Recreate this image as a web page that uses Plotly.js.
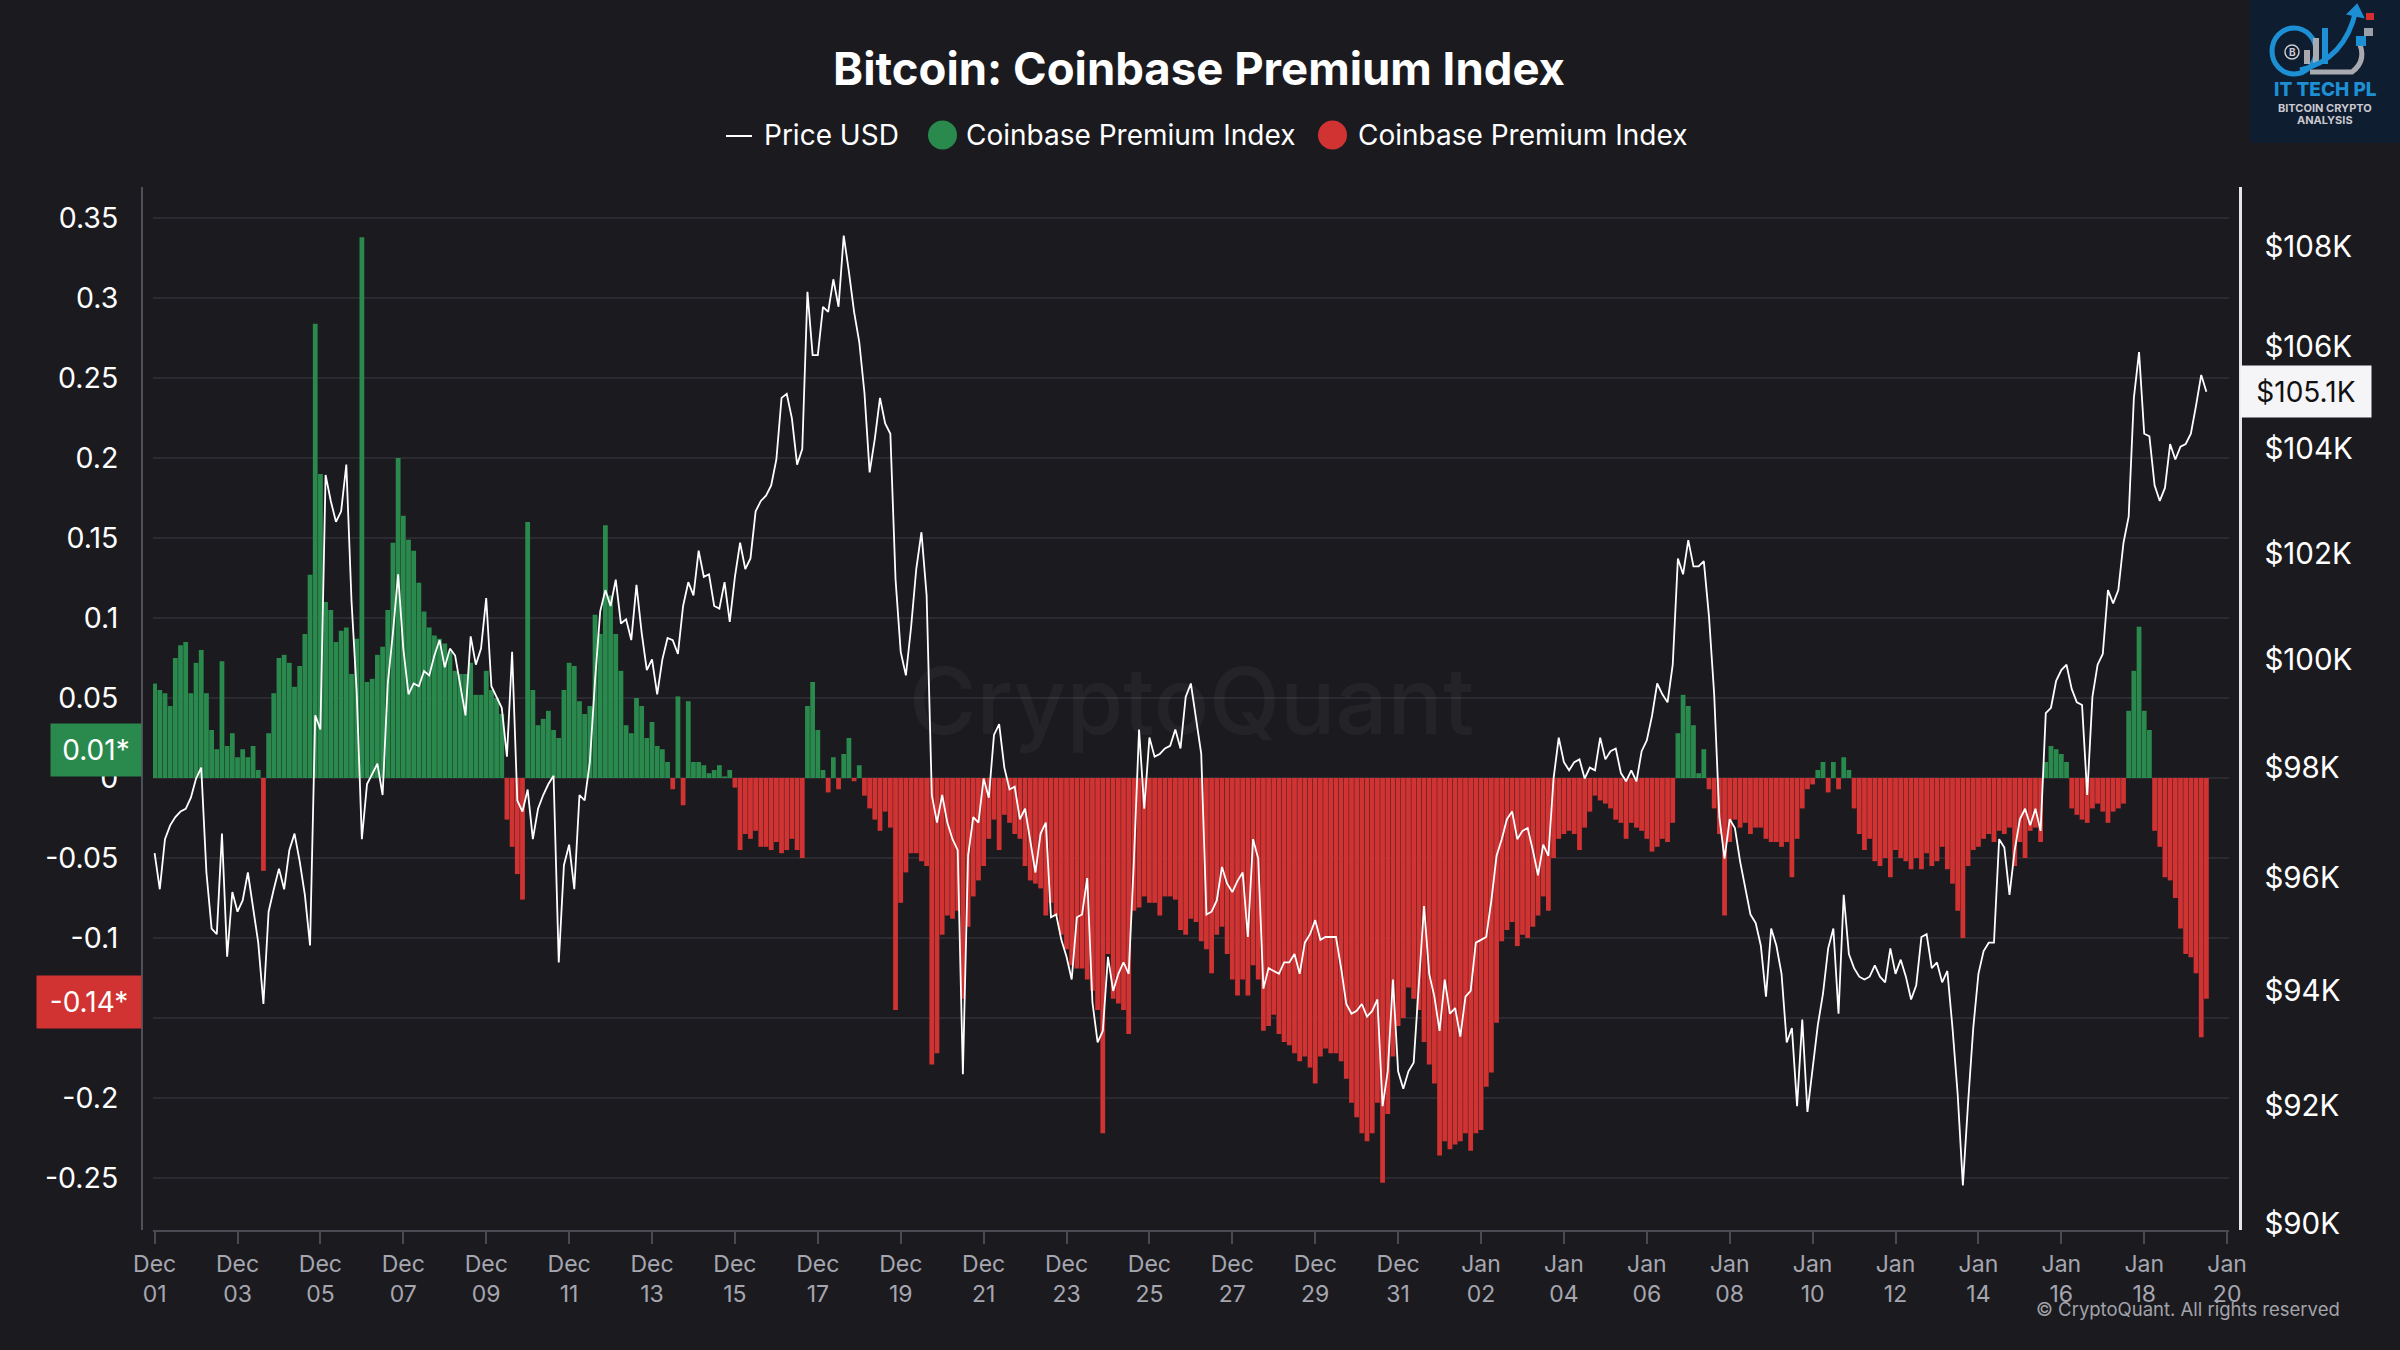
<!DOCTYPE html>
<html>
<head>
<meta charset="utf-8">
<script src="https://cdn.plot.ly/plotly-3.0.1.min.js"></script>
<style>
html,body{margin:0;padding:0;background:#1b1b1f;}
#chart{width:2400px;height:1350px;}
</style>
</head>
<body>
<div id="chart"></div>
<script>
// ---------------- DATA ----------------
// series sampled every 3 hours, starting 2024-12-01 00:00
const seriesStart = '2024-12-01T00:00:00Z';
const stepHours = 3;

// Coinbase Premium Index (positive -> green, negative -> red)
const premium = [
 0.059,0.055,0.053,0.045,0.075,0.083,0.085,0.053,0.072,0.08,
 0.053,0.03,0.018,0.073,0.02,0.028,0.013,0.018,0.013,0.02,
 0.005,-0.058,0.028,0.053,0.075,0.077,0.072,0.057,0.07,0.09,
 0.127,0.284,0.19,0.11,0.105,0.085,0.092,0.094,0.065,0.087,
 0.338,0.06,0.062,0.077,0.082,0.105,0.147,0.2,0.164,0.149,
 0.142,0.122,0.104,0.094,0.089,0.087,0.084,0.079,0.067,0.065,
 0.065,0.072,0.052,0.052,0.067,0.055,0.05,0.04,-0.026,-0.043,
 -0.06,-0.076,0.16,0.055,0.033,0.037,0.042,0.03,0.025,0.055,
 0.072,0.07,0.048,0.04,0.045,0.102,0.09,0.158,0.114,0.09,
 0.067,0.033,0.028,0.05,0.045,0.025,0.035,0.02,0.018,0.01,
 -0.007,0.051,-0.017,0.048,0.01,0.01,0.008,0.003,0.005,0.008,
 0.001,0.005,-0.006,-0.045,-0.035,-0.038,-0.033,-0.043,-0.043,-0.045,
 -0.04,-0.047,-0.045,-0.038,-0.045,-0.05,0.045,0.06,0.03,0.005,
 -0.009,0.013,-0.007,0.015,0.025,-0.002,0.008,-0.011,-0.019,-0.026,
 -0.033,-0.021,-0.031,-0.145,-0.078,-0.059,-0.047,-0.047,-0.052,-0.055,
 -0.179,-0.172,-0.098,-0.086,-0.088,-0.083,-0.138,-0.093,-0.074,-0.064,
 -0.055,-0.038,-0.026,-0.045,-0.023,-0.028,-0.035,-0.038,-0.055,-0.064,
 -0.066,-0.069,-0.086,-0.078,-0.086,-0.098,-0.107,-0.117,-0.119,-0.119,
 -0.126,-0.133,-0.145,-0.222,-0.11,-0.138,-0.141,-0.145,-0.16,-0.083,
 -0.081,-0.074,-0.078,-0.078,-0.086,-0.074,-0.074,-0.076,-0.095,-0.098,
 -0.088,-0.09,-0.102,-0.107,-0.122,-0.098,-0.093,-0.11,-0.126,-0.136,
 -0.126,-0.136,-0.117,-0.126,-0.158,-0.155,-0.148,-0.16,-0.165,-0.167,
 -0.172,-0.177,-0.174,-0.181,-0.191,-0.174,-0.169,-0.172,-0.172,-0.177,
 -0.188,-0.203,-0.212,-0.222,-0.227,-0.222,-0.203,-0.253,-0.21,-0.174,
 -0.155,-0.15,-0.131,-0.138,-0.145,-0.165,-0.179,-0.191,-0.236,-0.227,
 -0.232,-0.229,-0.227,-0.222,-0.233,-0.222,-0.22,-0.193,-0.184,-0.153,
 -0.102,-0.095,-0.09,-0.105,-0.098,-0.1,-0.093,-0.086,-0.074,-0.083,
 -0.05,-0.038,-0.035,-0.033,-0.035,-0.045,-0.031,-0.021,-0.011,-0.014,
 -0.016,-0.019,-0.026,-0.028,-0.038,-0.028,-0.031,-0.033,-0.038,-0.046,
 -0.043,-0.038,-0.04,-0.028,0.028,0.052,0.045,0.033,0.003,0.018,
 -0.007,-0.019,-0.035,-0.086,-0.04,-0.026,-0.031,-0.028,-0.035,-0.031,
 -0.031,-0.038,-0.04,-0.04,-0.043,-0.04,-0.062,-0.038,-0.019,-0.007,
 -0.004,0.005,0.01,-0.009,0.01,-0.007,0.013,0.005,-0.019,-0.035,
 -0.045,-0.038,-0.052,-0.055,-0.05,-0.062,-0.045,-0.05,-0.052,-0.057,
 -0.05,-0.057,-0.047,-0.055,-0.052,-0.043,-0.057,-0.066,-0.083,-0.1,
 -0.055,-0.045,-0.043,-0.038,-0.035,-0.04,-0.033,-0.035,-0.031,-0.055,
 -0.04,-0.05,-0.033,-0.031,-0.04,0.01,0.02,0.018,0.015,0.01,
 -0.019,-0.023,-0.026,-0.028,-0.019,-0.016,-0.021,-0.028,-0.021,-0.019,
 -0.016,0.042,0.067,0.0945,0.042,0.03,-0.033,-0.043,-0.062,-0.064,
 -0.075,-0.094,-0.11,-0.112,-0.122,-0.162,-0.138
];

// Bitcoin price, thousands of USD
const priceUsdK = [
 96.45,95.8,96.7,96.95,97.1,97.2,97.25,97.45,97.8,98.0,
 96.1,95.1,95.0,96.8,94.6,95.75,95.4,95.6,96.1,95.5,
 94.85,93.77,95.4,95.8,96.17,95.8,96.5,96.8,96.3,95.7,
 94.8,98.96,98.7,103.5,103.0,102.6,102.8,103.7,101.1,99.4,
 96.7,97.7,97.9,98.07,97.5,99.55,100.5,101.6,100.2,99.35,
 99.55,99.5,99.78,99.7,100.07,100.36,99.85,100.2,100.07,99.5,
 98.96,100.43,99.9,100.2,101.15,99.5,99.3,99.1,98.2,100.14,
 97.4,97.2,97.6,96.7,97.25,97.5,97.7,97.85,94.5,96.23,
 96.6,95.8,97.5,97.4,98.1,99.6,100.9,101.3,101.0,101.5,
 100.67,100.75,100.36,101.4,100.5,99.8,100.0,99.35,100.0,100.4,
 100.36,100.1,101.0,101.45,101.2,102.05,101.55,101.6,101.0,100.95,
 101.45,100.7,101.55,102.2,101.7,101.9,102.8,103.0,103.1,103.3,
 103.8,105.0,105.08,104.6,103.7,104.0,107.1,105.84,105.84,106.8,
 106.7,107.35,106.8,108.23,107.5,106.7,106.1,105.1,103.55,104.2,
 105.0,104.5,104.3,101.5,100.14,99.7,100.6,101.7,102.4,101.2,
 97.5,97.0,97.5,97.0,96.7,96.5,92.55,96.4,97.1,97.0,
 97.8,97.45,98.6,98.8,98.0,97.6,97.65,97.06,97.25,96.7,
 96.1,96.8,97.0,95.3,95.35,94.9,94.6,94.2,95.3,95.35,
 96.0,93.8,93.1,93.3,94.6,94.0,94.3,94.5,94.3,96.3,
 98.7,97.25,98.55,98.2,98.25,98.35,98.4,98.7,98.35,99.3,
 99.55,98.9,98.25,95.35,95.4,95.6,96.2,95.9,95.75,95.95,
 96.1,94.95,96.7,96.35,94.04,94.4,94.35,94.3,94.5,94.5,
 94.65,94.3,94.85,95.0,95.25,94.9,94.95,94.95,94.95,94.4,
 93.77,93.6,93.65,93.77,93.55,93.65,93.85,92.0,92.6,94.2,
 92.6,92.3,92.6,92.75,94.2,95.5,94.3,93.9,93.3,94.2,
 93.6,93.7,93.2,93.9,94.0,94.85,94.9,94.95,95.6,96.4,
 96.7,97.06,97.2,96.7,96.85,96.9,96.5,96.05,96.6,96.4,
 97.8,98.55,98.1,97.95,98.1,98.15,97.8,98.0,97.95,98.55,
 98.15,98.3,98.35,97.9,97.75,97.95,97.75,98.3,98.5,98.95,
 99.55,99.35,99.2,99.9,101.9,101.6,102.25,101.75,101.75,101.85,
 100.8,99.35,97.1,96.35,97.06,96.9,96.3,95.85,95.35,95.2,
 94.8,93.9,95.1,94.8,94.3,93.1,93.35,92.0,93.5,91.9,
 92.6,93.4,93.95,94.75,95.1,93.6,95.7,94.65,94.4,94.25,
 94.2,94.25,94.45,94.25,94.15,94.75,94.3,94.55,94.25,93.85,
 94.1,94.95,95.0,94.4,94.5,94.15,94.35,93.35,92.2,90.65,
 92.05,93.35,94.3,94.7,94.85,94.85,96.7,96.55,95.7,96.5,
 97.06,97.25,96.95,97.25,96.85,99.0,99.1,99.6,99.8,99.9,
 99.45,99.2,99.15,97.5,99.3,99.9,100.1,101.3,101.05,101.3,
 102.2,102.7,105.0,105.9,104.3,104.25,103.3,103.0,103.25,104.1,
 103.8,104.05,104.1,104.3,104.85,105.45,105.12
];

// axis ticks
const xTickVals = ['2024-12-01','2024-12-03','2024-12-05','2024-12-07','2024-12-09','2024-12-11',
  '2024-12-13','2024-12-15','2024-12-17','2024-12-19','2024-12-21','2024-12-23','2024-12-25',
  '2024-12-27','2024-12-29','2024-12-31','2025-01-02','2025-01-04','2025-01-06','2025-01-08',
  '2025-01-10','2025-01-12','2025-01-14','2025-01-16','2025-01-18','2025-01-20'];
const xTickText = ['Dec<br>01','Dec<br>03','Dec<br>05','Dec<br>07','Dec<br>09','Dec<br>11',
  'Dec<br>13','Dec<br>15','Dec<br>17','Dec<br>19','Dec<br>21','Dec<br>23','Dec<br>25',
  'Dec<br>27','Dec<br>29','Dec<br>31','Jan<br>02','Jan<br>04','Jan<br>06','Jan<br>08',
  'Jan<br>10','Jan<br>12','Jan<br>14','Jan<br>16','Jan<br>18','Jan<br>20'];
// -0.15 sits under the "-0.14*" marker in the reference, so its label is hidden
const premiumTickVals = [-0.25,-0.2,-0.15,-0.1,-0.05,0,0.05,0.1,0.15,0.2,0.25,0.3,0.35];
const premiumTickText = ['-0.25','-0.2','','-0.1','-0.05','0','0.05','0.1','0.15','0.2','0.25','0.3','0.35'];
const priceTickVals = [90000,92000,94000,96000,98000,100000,102000,104000,106000,108000];
const priceTickText = ['$90K','$92K','$94K','$96K','$98K','$100K','$102K','$104K','$106K','$108K'];

// latest-value markers shown on the left axis
const premiumMarkerValues = [0.0178, -0.14];
const premiumMarkerText = ['0.01*', '-0.14*'];

// legend entries
const legendNames = ['Price USD', 'Coinbase Premium Index', 'Coinbase Premium Index'];

// ---------------- BUILD ----------------
const GREEN = '#2a8a4e', RED = '#d13333';
const t0 = Date.parse(seriesStart);
const times = premium.map((_, i) =>
  new Date(t0 + i * stepHours * 3600000).toISOString().slice(0, 19).replace('T', ' '));
const barW = stepHours * 3600000 * 0.92;
const greenY = premium.map(v => v >= 0 ? v : null);
const redY = premium.map(v => v < 0 ? v : null);
const priceUsd = priceUsdK.map(v => v * 1000);

// page geometry helpers (plot area spans 142..2240 x 187..1230 px)
const L = 142, R = 2240, T = 187, B = 1230;
const px = X => (X - L) / (R - L);
const py = Y => (B - Y) / (B - T);

const traces = [
  {type: 'bar', name: legendNames[1], x: times, y: greenY, width: barW,
   marker: {color: GREEN, line: {width: 0}},
   showlegend: false, hoverinfo: 'skip', xaxis: 'x', yaxis: 'y'},
  {type: 'bar', name: legendNames[2], x: times, y: redY, width: barW,
   marker: {color: RED, line: {width: 0}},
   showlegend: false, hoverinfo: 'skip', xaxis: 'x', yaxis: 'y'},
  {type: 'scatter', mode: 'lines', name: legendNames[0], x: times, y: priceUsd,
   line: {color: '#ffffff', width: 1.8}, xaxis: 'x', yaxis: 'y2', showlegend: false, hoverinfo: 'skip'}
];

const lastPrice = priceUsd[priceUsd.length - 1];
const lastPremium = premium[premium.length - 1];

const LEG_Y = 135;
const annotations = [
  // legend texts
  {xref: 'paper', yref: 'paper', x: px(762), y: py(LEG_Y), xanchor: 'left', yanchor: 'middle',
   text: legendNames[0], showarrow: false, font: {family: 'Inter', size: 28, color: '#ffffff'}},
  {xref: 'paper', yref: 'paper', x: px(964), y: py(LEG_Y), xanchor: 'left', yanchor: 'middle',
   text: legendNames[1], showarrow: false, font: {family: 'Inter', size: 28, color: '#ffffff'}},
  {xref: 'paper', yref: 'paper', x: px(1356), y: py(LEG_Y), xanchor: 'left', yanchor: 'middle',
   text: legendNames[2], showarrow: false, font: {family: 'Inter', size: 28, color: '#ffffff'}},
  // latest-value markers
  {xref: 'paper', yref: 'y', x: 0, y: premiumMarkerValues[0], xanchor: 'right', yanchor: 'middle',
   text: premiumMarkerText[0], showarrow: false, bgcolor: GREEN, borderpad: 8,
   width: 74, height: 36, align: 'center',
   font: {family: 'Inter', size: 28, color: '#ffffff'}},
  {xref: 'paper', yref: 'y', x: 0, y: premiumMarkerValues[1], xanchor: 'right', yanchor: 'middle',
   text: premiumMarkerText[1], showarrow: false, bgcolor: RED, borderpad: 8,
   width: 88, height: 36, align: 'center',
   font: {family: 'Inter', size: 28, color: '#ffffff'}},
  {xref: 'paper', yref: 'y2', x: 1, y: Math.log10(lastPrice), xanchor: 'left', yanchor: 'middle',
   text: '$' + (lastPrice / 1000).toFixed(1) + 'K', showarrow: false, bgcolor: '#f5f5f7', borderpad: 7,
   width: 116, height: 37, align: 'center',
   font: {family: 'Inter', size: 28, color: '#111111'}},
  // watermark & copyright
  {xref: 'paper', yref: 'paper', x: px(1191), y: py(700), xanchor: 'center', yanchor: 'middle',
   text: 'CryptoQuant', showarrow: false,
   font: {family: 'Inter', size: 92, weight: 500, color: 'rgba(255,255,255,0.045)'}},
  {xref: 'paper', yref: 'paper', x: px(2342), y: py(1309), xanchor: 'right', yanchor: 'middle',
   text: '© CryptoQuant. All rights reserved', showarrow: false,
   font: {family: 'Inter', size: 18.5, color: '#a3a3ab'}},
  // logo texts
  {xref: 'paper', yref: 'paper', x: px(2325), y: py(90), xanchor: 'center', yanchor: 'middle',
   text: 'IT TECH PL', showarrow: false,
   font: {family: 'Inter', size: 19, weight: 800, color: '#1d8fd4'}},
  {xref: 'paper', yref: 'paper', x: px(2325), y: py(108), xanchor: 'center', yanchor: 'middle',
   text: 'BITCOIN CRYPTO', showarrow: false,
   font: {family: 'Inter', size: 11, weight: 700, color: '#c9c9cf'}},
  {xref: 'paper', yref: 'paper', x: px(2325), y: py(120), xanchor: 'center', yanchor: 'middle',
   text: 'ANALYSIS', showarrow: false,
   font: {family: 'Inter', size: 11, weight: 700, color: '#c9c9cf'}},
  {xref: 'paper', yref: 'paper', x: px(2292), y: py(52), xanchor: 'center', yanchor: 'middle',
   text: 'B', showarrow: false,
   font: {family: 'Inter', size: 10, weight: 700, color: '#c9c9cf'}}
];

const shapes = [
  // dashed zero line
  {type: 'line', xref: 'x', yref: 'y', x0: '2024-11-30 23:04', x1: '2025-01-20 01:05', y0: 0, y1: 0,
   line: {color: '#5a5a62', width: 2, dash: 'dash'}, layer: 'below'},
  // legend symbols
  {type: 'line', xref: 'paper', yref: 'paper', x0: px(726), x1: px(752), y0: py(LEG_Y + 1), y1: py(LEG_Y + 1),
   line: {color: '#ffffff', width: 2}},
  {type: 'circle', xref: 'paper', yref: 'paper', x0: px(928), x1: px(957), y0: py(LEG_Y - 14.5), y1: py(LEG_Y + 14.5),
   fillcolor: GREEN, line: {width: 0}},
  {type: 'circle', xref: 'paper', yref: 'paper', x0: px(1318), x1: px(1347), y0: py(LEG_Y - 14.5), y1: py(LEG_Y + 14.5),
   fillcolor: RED, line: {width: 0}},
  // logo box
  {type: 'rect', xref: 'paper', yref: 'paper', x0: px(2250), x1: px(2400), y0: py(0), y1: py(143),
   fillcolor: '#0f1d31', line: {width: 0}, layer: 'above'},
  {type: 'circle', xref: 'paper', yref: 'paper', x0: px(2272), x1: px(2316), y0: py(28), y1: py(74),
   fillcolor: 'rgba(0,0,0,0)', line: {color: '#1d8fd4', width: 5}},
  {type: 'circle', xref: 'paper', yref: 'paper', x0: px(2285), x1: px(2299), y0: py(45), y1: py(59),
   fillcolor: 'rgba(0,0,0,0)', line: {color: '#c9c9cf', width: 1.5}},
  {type: 'rect', xref: 'paper', yref: 'paper', x0: px(2304), x1: px(2310), y0: py(50), y1: py(64),
   fillcolor: '#a9a9b0', line: {width: 0}},
  {type: 'rect', xref: 'paper', yref: 'paper', x0: px(2313), x1: px(2319), y0: py(38), y1: py(64),
   fillcolor: '#a9a9b0', line: {width: 0}},
  {type: 'rect', xref: 'paper', yref: 'paper', x0: px(2322), x1: px(2328), y0: py(28), y1: py(64),
   fillcolor: '#1d8fd4', line: {width: 0}},
  {type: 'path', xref: 'paper', yref: 'paper',
   path: 'M ' + px(2300) + ' ' + py(70) + ' Q ' + px(2345) + ' ' + py(60) + ' ' + px(2356) + ' ' + py(10),
   fillcolor: 'rgba(0,0,0,0)', line: {color: '#1d8fd4', width: 5}},
  {type: 'path', xref: 'paper', yref: 'paper',
   path: 'M ' + px(2348) + ' ' + py(14) + ' L ' + px(2357) + ' ' + py(5) + ' L ' + px(2363) + ' ' + py(17) + ' Z',
   fillcolor: '#1d8fd4', line: {color: '#1d8fd4', width: 2}},
  {type: 'path', xref: 'paper', yref: 'paper',
   path: 'M ' + px(2310) + ' ' + py(72) + ' L ' + px(2352) + ' ' + py(72) + ' Q ' + px(2368) + ' ' + py(60) + ' ' + px(2358) + ' ' + py(40),
   fillcolor: 'rgba(0,0,0,0)', line: {color: '#a9a9b0', width: 5}},
  {type: 'rect', xref: 'paper', yref: 'paper', x0: px(2366), x1: px(2374), y0: py(13), y1: py(20),
   fillcolor: '#d62d2d', line: {width: 0}},
  {type: 'rect', xref: 'paper', yref: 'paper', x0: px(2364), x1: px(2373), y0: py(28), y1: py(36),
   fillcolor: '#9aa0a8', line: {width: 0}},
  {type: 'rect', xref: 'paper', yref: 'paper', x0: px(2356), x1: px(2366), y0: py(36), y1: py(46),
   fillcolor: '#1d8fd4', line: {width: 0}}
];

const layout = {
  width: 2400, height: 1350, autosize: false,
  paper_bgcolor: '#1b1b1f', plot_bgcolor: '#1b1b1f',
  margin: {l: L, r: 2400 - R, t: T, b: 1350 - B, pad: 0},
  font: {family: 'Inter', color: '#ffffff'},
  title: {text: 'Bitcoin: Coinbase Premium Index', x: 0.4996, xref: 'container', xanchor: 'center',
          y: 1 - 69 / 1350, yref: 'container', yanchor: 'middle',
          font: {family: 'Inter', size: 45.5, weight: 700, color: '#ffffff'}},
  showlegend: false,
  barmode: 'overlay',
  xaxis: {type: 'date', domain: [px(153), px(2229)], anchor: 'y',
          range: ['2024-11-30 23:04', '2025-01-20 01:05'],
          tickvals: xTickVals, ticktext: xTickText, tickmode: 'array',
          showgrid: false, zeroline: false,
          showline: true, linecolor: '#4a4a52', linewidth: 2,
          ticks: 'outside', ticklen: 12, tickwidth: 2, tickcolor: '#4a4a52',
          tickfont: {family: 'Inter', size: 23, color: '#a6a6b0'}},
  yaxis: {range: [-0.2825, 0.3694], anchor: 'free', position: 0,
          tickmode: 'array', tickvals: premiumTickVals, ticktext: premiumTickText,
          showgrid: true, gridcolor: '#2a2a30', gridwidth: 1.5, zeroline: false,
          showline: true, linecolor: '#505058', linewidth: 2, ticks: '',
          ticklabelstandoff: 17,
          tickfont: {family: 'Inter', size: 28.5, color: '#ffffff'}},
  yaxis2: {type: 'log', range: [4.95375, 5.03828], overlaying: 'y', side: 'right',
           anchor: 'free', position: 1,
           tickmode: 'array', tickvals: priceTickVals, ticktext: priceTickText,
           showgrid: false, zeroline: false,
           showline: true, linecolor: '#e6e6e6', linewidth: 2.5, ticks: '',
           ticklabelstandoff: 17,
           tickfont: {family: 'Inter', size: 29.5, color: '#ffffff'}},
  annotations: annotations,
  shapes: shapes,
  hovermode: false
};

Plotly.newPlot('chart', traces, layout, {displayModeBar: false, staticPlot: true});
</script>
</body>
</html>
